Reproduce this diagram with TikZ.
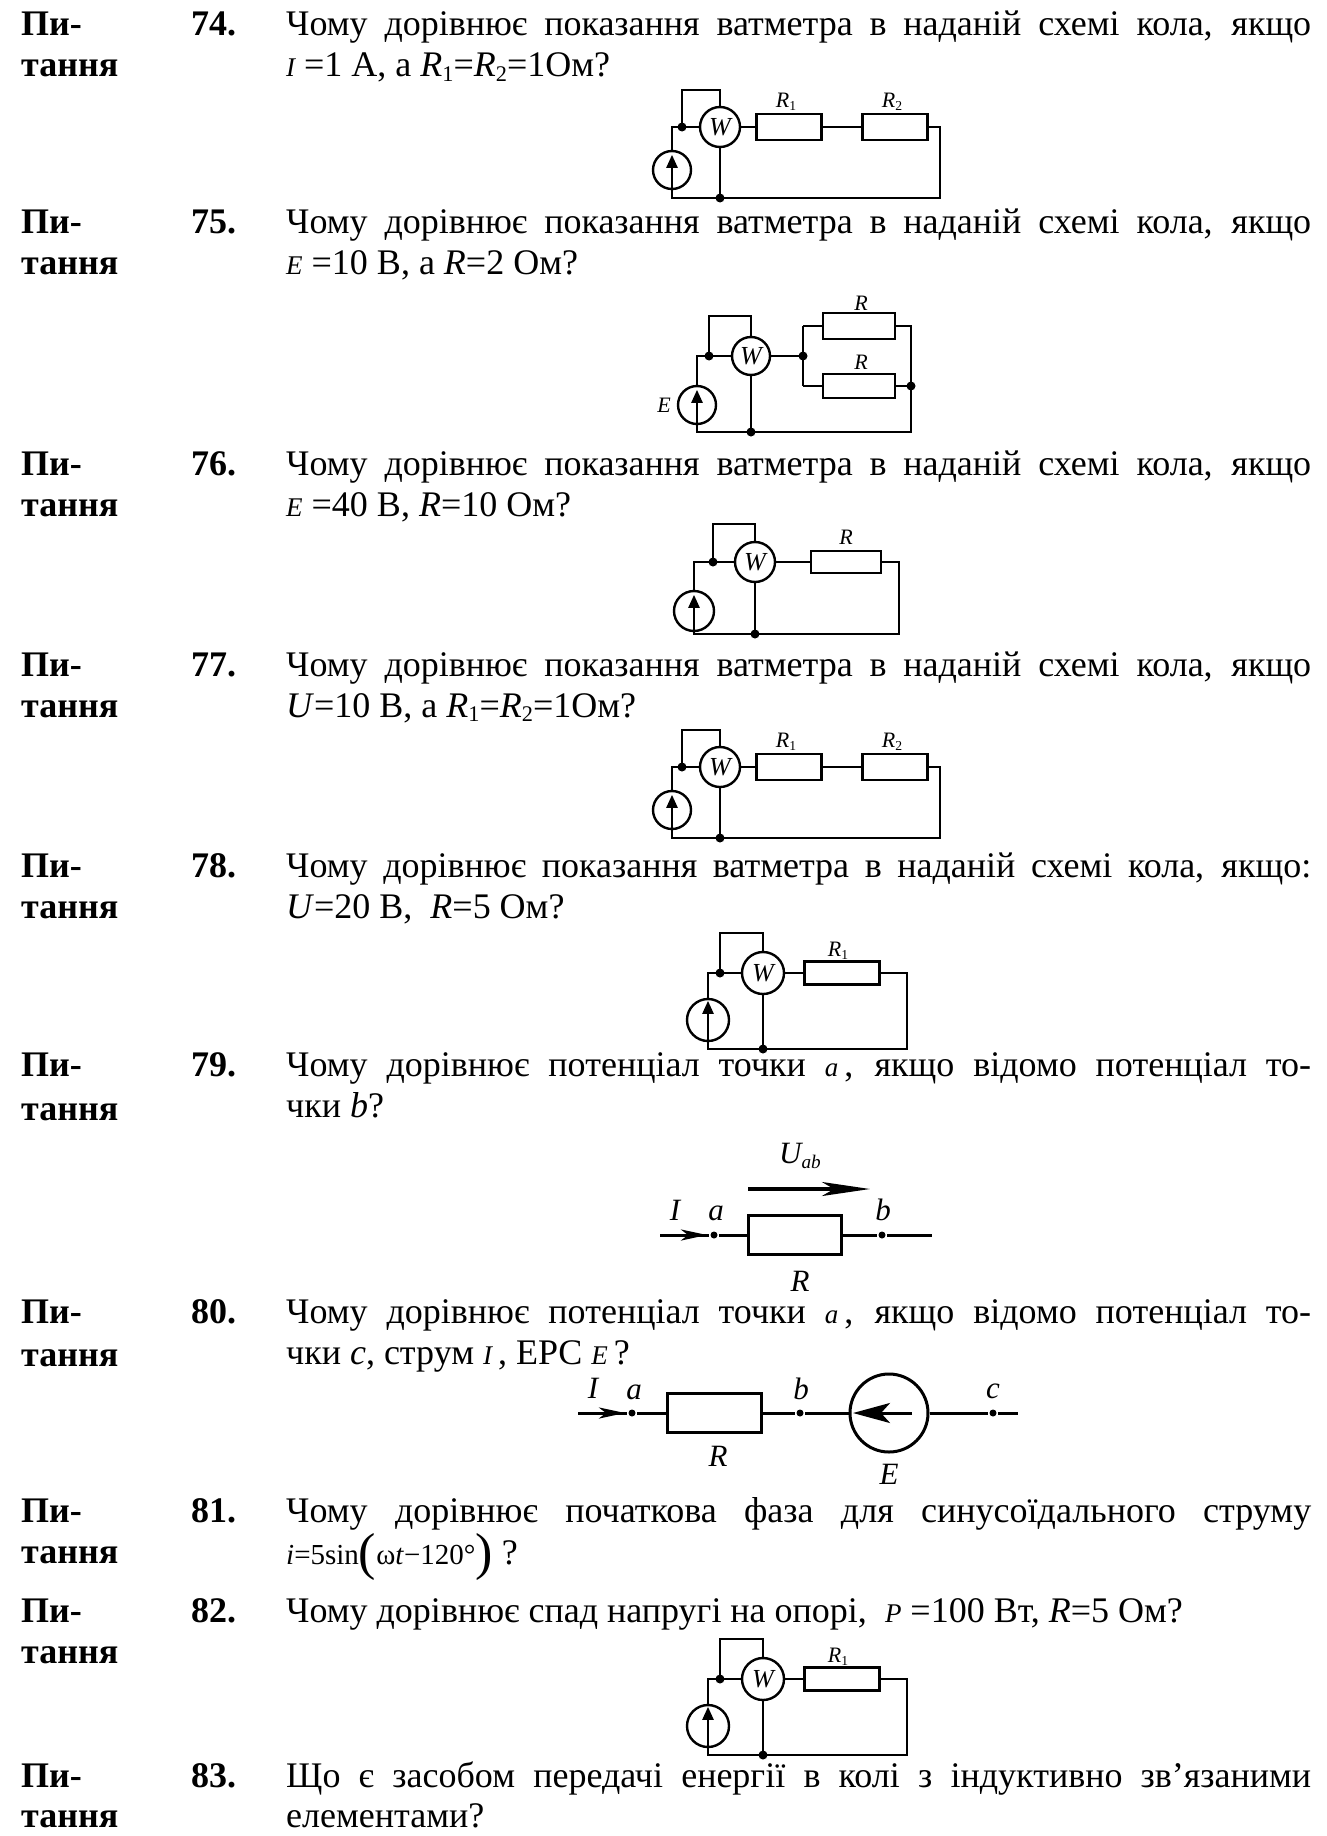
\documentclass[tikz,border=0pt]{standalone}
\usepackage{fontspec}
\setmainfont{Liberation Serif}
\usepackage{graphicx}
\usetikzlibrary{arrows.meta}
\newcommand{\dn}[1]{\raisebox{-0.3ex}{\scalebox{0.62}{#1}}}
\newcommand{\eqv}[1]{{\fontsize{27}{27}\selectfont\itshape #1}}
\newcommand{\bigpar}[1]{\raisebox{-0.2em}{\fontsize{52}{52}\selectfont #1}}
\newcommand{\qwatt}{Чому дорівнює показання ватметра в наданій схемі кола, якщо}
\newcommand{\qpot}{Чому дорівнює потенціал точки \eqv{a}\,, якщо відомо потенціал то-}
\begin{document}
\begin{tikzpicture}[x=1pt, y=-1pt, line width=2.4pt,
  qtext/.style={font=\fontsize{36}{41}\selectfont, anchor=base west, inner sep=0pt},
  qhead/.style={font=\fontsize{36}{41}\selectfont\bfseries, anchor=base west, inner sep=0pt},
  meter/.style={circle, draw, minimum size=40pt, inner sep=0pt, font=\fontsize{26}{26}\selectfont\itshape},
  res/.style={rectangle, draw, minimum width=65pt, minimum height=26pt, inner sep=0pt},
  src/.style={circle, draw, minimum size=38pt, inner sep=0pt},
  jdot/.style={circle, fill, minimum size=9pt, inner sep=0pt},
  tap/.style={circle, fill, minimum size=7pt, inner sep=0pt},
  lbl/.style={font=\fontsize{22}{22}\selectfont\itshape, inner sep=0pt},
  lbl2/.style={font=\fontsize{31}{31}\selectfont\itshape, inner sep=0pt},
  srcarrow/.style={-{Triangle[length=13pt,width=11pt]}},
  Iarrow/.style={-{Stealth[length=26pt,width=11pt,inset=7pt]}},
  Uarrow/.style={line width=3.5pt, -{Stealth[length=48pt,width=14pt,inset=12pt]}}]
\path[fill=white] (0,0) rectangle (1327,1836) ;
% question 74
\node[qhead] (p74a) at (20,36) {Пи-} ;
\node[qhead] (p74b) at (20,77) {тання} ;
\node[qhead] (n74) at (190,36) {74.} ;
\node[qtext] (q74a) at (285,36) {\makebox[1025pt][s]{\qwatt}} ;
\node[qtext] (q74b) at (285,77) {\eqv{I} =1 А, а \textit{R}\dn{1}=\textit{R}\dn{2}=1Ом?} ;
% question 75
\node[qhead] (p75a) at (20,233) {Пи-} ;
\node[qhead] (p75b) at (20,274) {тання} ;
\node[qhead] (n75) at (190,233) {75.} ;
\node[qtext] (q75a) at (285,233) {\makebox[1025pt][s]{\qwatt}} ;
\node[qtext] (q75b) at (285,274) {\eqv{E} =10 В, а \textit{R}=2 Ом?} ;
% question 76
\node[qhead] (p76a) at (20,475) {Пи-} ;
\node[qhead] (p76b) at (20,516) {тання} ;
\node[qhead] (n76) at (190,475) {76.} ;
\node[qtext] (q76a) at (285,475) {\makebox[1025pt][s]{\qwatt}} ;
\node[qtext] (q76b) at (285,516) {\eqv{E} =40 В, \textit{R}=10 Ом?} ;
% question 77
\node[qhead] (p77a) at (20,676) {Пи-} ;
\node[qhead] (p77b) at (20,717) {тання} ;
\node[qhead] (n77) at (190,676) {77.} ;
\node[qtext] (q77a) at (285,676) {\makebox[1025pt][s]{\qwatt}} ;
\node[qtext] (q77b) at (285,717) {\textit{U}=10 В, а \textit{R}\dn{1}=\textit{R}\dn{2}=1Ом?} ;
% question 78
\node[qhead] (p78a) at (20,877) {Пи-} ;
\node[qhead] (p78b) at (20,918) {тання} ;
\node[qhead] (n78) at (190,877) {78.} ;
\node[qtext] (q78a) at (285,877) {\makebox[1025pt][s]{\qwatt:}} ;
\node[qtext] (q78b) at (285,918) {\textit{U}=20 В,\ \ \textit{R}=5 Ом?} ;
% question 79
\node[qhead] (p79a) at (20,1076) {Пи-} ;
\node[qhead] (p79b) at (20,1120) {тання} ;
\node[qhead] (n79) at (190,1076) {79.} ;
\node[qtext] (q79a) at (285,1076) {\makebox[1025pt][s]{\qpot}} ;
\node[qtext] (q79b) at (285,1117) {чки \textit{b}?} ;
% question 80
\node[qhead] (p80a) at (20,1323) {Пи-} ;
\node[qhead] (p80b) at (20,1366) {тання} ;
\node[qhead] (n80) at (190,1323) {80.} ;
\node[qtext] (q80a) at (285,1323) {\makebox[1025pt][s]{\qpot}} ;
\node[qtext] (q80b) at (285,1364) {чки \textit{c}, струм \eqv{I}\,, ЕРС \eqv{E}\,?} ;
% question 81
\node[qhead] (p81a) at (20,1522) {Пи-} ;
\node[qhead] (p81b) at (20,1563) {тання} ;
\node[qhead] (n81) at (190,1522) {81.} ;
\node[qtext] (q81a) at (285,1522) {\makebox[1025pt][s]{Чому дорівнює початкова фаза для синусоїдального струму}} ;
\node[qtext] (q81b) at (285,1564) {{\fontsize{29}{29}\selectfont\textit{i}=5sin\bigpar{(}ω\textit{t}−120°\bigpar{)}} ?} ;
% question 82
\node[qhead] (p82a) at (20,1622) {Пи-} ;
\node[qhead] (p82b) at (20,1663) {тання} ;
\node[qhead] (n82) at (190,1622) {82.} ;
\node[qtext] (q82a) at (285,1622) {Чому дорівнює спад напругі на опорі, \ \eqv{P} =100 Вт, \textit{R}=5 Ом?} ;
% question 83
\node[qhead] (p83a) at (20,1787) {Пи-} ;
\node[qhead] (p83b) at (20,1827) {тання} ;
\node[qhead] (n83) at (190,1787) {83.} ;
\node[qtext] (q83a) at (285,1787) {\makebox[1025pt][s]{Що є засобом передачі енергії в колі з індуктивно зв’язаними}} ;
\node[qtext] (q83b) at (285,1827) {елементами?} ;
% circuit 74
\begin{scope}
\coordinate (J) at (682,127) ;
\coordinate (T1) at (682,90) ;
\coordinate (T2) at (720,90) ;
\coordinate (C) at (940,127) ;
\coordinate (D) at (940,198) ;
\coordinate (B) at (720,198) ;
\coordinate (A) at (672,198) ;
\node[meter] (W) at (720,127) {W} ;
\node[res] (R1) at (789,127) {} ;
\node[res] (R2) at (895,127) {} ;
\node[src] (S) at (672,170) {} ;
\draw (S.north) |- (J) -- (W) -- (R1) -- (R2) -- (C) -- (D) -- (A) -- (S.south) ;
\draw (J) -- (T1) -- (T2) -- (W.north) ;
\draw (W.south) -- (B) ;
\draw[srcarrow] (S.south) -- ([yshift=-5pt]S.north) ;
\node[jdot] (j1) at (J) {} ;
\node[jdot] (b1) at (B) {} ;
\node[lbl] (l1) at (786,102) {R\dn{\upshape 1}} ;
\node[lbl] (l2) at (892,102) {R\dn{\upshape 2}} ;
\end{scope}
% circuit 75
\begin{scope}
\coordinate (J) at (709,356) ;
\coordinate (T1) at (709,316) ;
\coordinate (T2) at (751,316) ;
\coordinate (N) at (803,356) ;
\coordinate (Na) at (803,326) ;
\coordinate (Nb) at (803,386) ;
\coordinate (Ma) at (911,326) ;
\coordinate (M) at (911,386) ;
\coordinate (Mb) at (911,432) ;
\coordinate (B) at (751,432) ;
\coordinate (A) at (697,432) ;
\node[meter, minimum size=38pt] (W) at (751,356) {W} ;
\node[res, minimum width=72pt] (Ra) at (859,326) {} ;
\node[res, minimum width=72pt, minimum height=24pt] (Rb) at (859,386) {} ;
\node[src] (S) at (697,405) {} ;
\draw (S.north) |- (J) -- (W) -- (N) ;
\draw (Na) -- (Nb) ;
\draw (Na) -- (Ra) -- (Ma) -- (Mb) -- (A) -- (S.south) ;
\draw (Nb) -- (Rb) -- (M) ;
\draw (J) -- (T1) -- (T2) -- (W.north) ;
\draw (W.south) -- (B) ;
\draw[srcarrow] (S.south) -- ([yshift=-5pt]S.north) ;
\node[jdot] (j1) at (J) {} ;
\node[jdot] (n1) at (N) {} ;
\node[jdot] (m1) at (M) {} ;
\node[jdot] (b1) at (B) {} ;
\node[lbl] (l1) at (861,303) {R} ;
\node[lbl] (l2) at (861,362) {R} ;
\node[lbl] (l3) at (664,405) {E} ;
\end{scope}
% circuit 76
\begin{scope}
\coordinate (J) at (713,562) ;
\coordinate (T1) at (713,524) ;
\coordinate (T2) at (755,524) ;
\coordinate (C) at (899,562) ;
\coordinate (D) at (899,634) ;
\coordinate (B) at (755,634) ;
\coordinate (A) at (694,634) ;
\node[meter] (W) at (755,562) {W} ;
\node[res, minimum width=70pt, minimum height=22pt] (R1) at (846,562) {} ;
\node[src, minimum size=40pt] (S) at (694,611) {} ;
\draw (S.north) |- (J) -- (W) -- (R1) -- (C) -- (D) -- (A) -- (S.south) ;
\draw (J) -- (T1) -- (T2) -- (W.north) ;
\draw (W.south) -- (B) ;
\draw[srcarrow] (S.south) -- ([yshift=-5pt]S.north) ;
\node[jdot] (j1) at (J) {} ;
\node[jdot] (b1) at (B) {} ;
\node[lbl] (l1) at (846,537) {R} ;
\end{scope}
% circuit 77
\begin{scope}[yshift=-640pt]
\coordinate (J) at (682,127) ;
\coordinate (T1) at (682,90) ;
\coordinate (T2) at (720,90) ;
\coordinate (C) at (940,127) ;
\coordinate (D) at (940,198) ;
\coordinate (B) at (720,198) ;
\coordinate (A) at (672,198) ;
\node[meter] (W) at (720,127) {W} ;
\node[res] (R1) at (789,127) {} ;
\node[res] (R2) at (895,127) {} ;
\node[src] (S) at (672,170) {} ;
\draw (S.north) |- (J) -- (W) -- (R1) -- (R2) -- (C) -- (D) -- (A) -- (S.south) ;
\draw (J) -- (T1) -- (T2) -- (W.north) ;
\draw (W.south) -- (B) ;
\draw[srcarrow] (S.south) -- ([yshift=-5pt]S.north) ;
\node[jdot] (j1) at (J) {} ;
\node[jdot] (b1) at (B) {} ;
\node[lbl] (l1) at (786,102) {R\dn{\upshape 1}} ;
\node[lbl] (l2) at (892,102) {R\dn{\upshape 2}} ;
\end{scope}
% circuit 78
\begin{scope}
\coordinate (J) at (720,973) ;
\coordinate (T1) at (720,933) ;
\coordinate (T2) at (763,933) ;
\coordinate (C) at (907,973) ;
\coordinate (D) at (907,1049) ;
\coordinate (B) at (763,1049) ;
\coordinate (A) at (708,1049) ;
\node[meter, minimum size=42pt] (W) at (763,973) {W} ;
\node[res, minimum width=75pt, minimum height=23pt] (R1) at (842,973) {} ;
\node[src, minimum size=42pt] (S) at (708,1020) {} ;
\draw (S.north) |- (J) -- (W) -- (R1) -- (C) -- (D) -- (A) -- (S.south) ;
\draw (J) -- (T1) -- (T2) -- (W.north) ;
\draw (W.south) -- (B) ;
\draw[srcarrow] (S.south) -- ([yshift=-3pt]S.north) ;
\node[jdot] (j1) at (J) {} ;
\node[jdot] (b1) at (B) {} ;
\node[lbl] (l1) at (838,951) {R\dn{\upshape 1}} ;
\end{scope}
% circuit 79
\begin{scope}[line width=3pt]
\coordinate (in) at (660,1235) ;
\coordinate (tip) at (707,1235) ;
\coordinate (out) at (932,1235) ;
\coordinate (U1) at (748,1189) ;
\coordinate (U2) at (870,1189) ;
\node[tap] (a) at (714,1235) {} ;
\node[res, minimum width=93pt, minimum height=39pt] (R) at (795,1235) {} ;
\node[tap] (b) at (882,1235) {} ;
\draw (in) -- (a) -- (R) -- (b) -- (out) ;
\draw[Iarrow] (in) -- (tip) ;
\draw[Uarrow] (U1) -- (U2) ;
\node[lbl2] (lI) at (675,1210) {I} ;
\node[lbl2] (la) at (716,1213) {a} ;
\node[lbl2] (lb) at (883,1210) {b} ;
\node[lbl2] (lR) at (800,1281) {R} ;
\node[lbl2] (lU) at (800,1156) {U\dn{ab}} ;
\end{scope}
% circuit 80
\begin{scope}[line width=3pt]
\coordinate (in) at (578,1413) ;
\coordinate (tip) at (625,1413) ;
\coordinate (out) at (1018,1413) ;
\coordinate (e1) at (912,1413) ;
\coordinate (e2) at (853,1413) ;
\node[tap] (a) at (632,1413) {} ;
\node[res, minimum width=94pt, minimum height=39pt] (R) at (714,1413) {} ;
\node[tap] (b) at (800,1413) {} ;
\node[src, minimum size=78pt] (E) at (889,1413) {} ;
\node[tap] (c) at (993,1413) {} ;
\draw (in) -- (a) -- (R) -- (b) -- (E) -- (c) -- (out) ;
\draw[Iarrow] (in) -- (tip) ;
\draw[-{Stealth[length=37pt,width=20pt,inset=9pt]}] (e1) -- (e2) ;
\node[lbl2] (lI) at (593,1388) {I} ;
\node[lbl2] (la) at (634,1392) {a} ;
\node[lbl2] (lb) at (801,1389) {b} ;
\node[lbl2] (lc) at (993,1391) {c} ;
\node[lbl2] (lR) at (718,1456) {R} ;
\node[lbl2] (lE) at (889,1474) {E} ;
\end{scope}
% circuit 82
\begin{scope}[yshift=-706pt]
\coordinate (J) at (720,973) ;
\coordinate (T1) at (720,933) ;
\coordinate (T2) at (763,933) ;
\coordinate (C) at (907,973) ;
\coordinate (D) at (907,1049) ;
\coordinate (B) at (763,1049) ;
\coordinate (A) at (708,1049) ;
\node[meter, minimum size=42pt] (W) at (763,973) {W} ;
\node[res, minimum width=75pt, minimum height=23pt] (R1) at (842,973) {} ;
\node[src, minimum size=42pt] (S) at (708,1020) {} ;
\draw (S.north) |- (J) -- (W) -- (R1) -- (C) -- (D) -- (A) -- (S.south) ;
\draw (J) -- (T1) -- (T2) -- (W.north) ;
\draw (W.south) -- (B) ;
\draw[srcarrow] (S.south) -- ([yshift=-3pt]S.north) ;
\node[jdot] (j1) at (J) {} ;
\node[jdot] (b1) at (B) {} ;
\node[lbl] (l1) at (838,951) {R\dn{\upshape 1}} ;
\end{scope}
\end{tikzpicture}
\end{document}
